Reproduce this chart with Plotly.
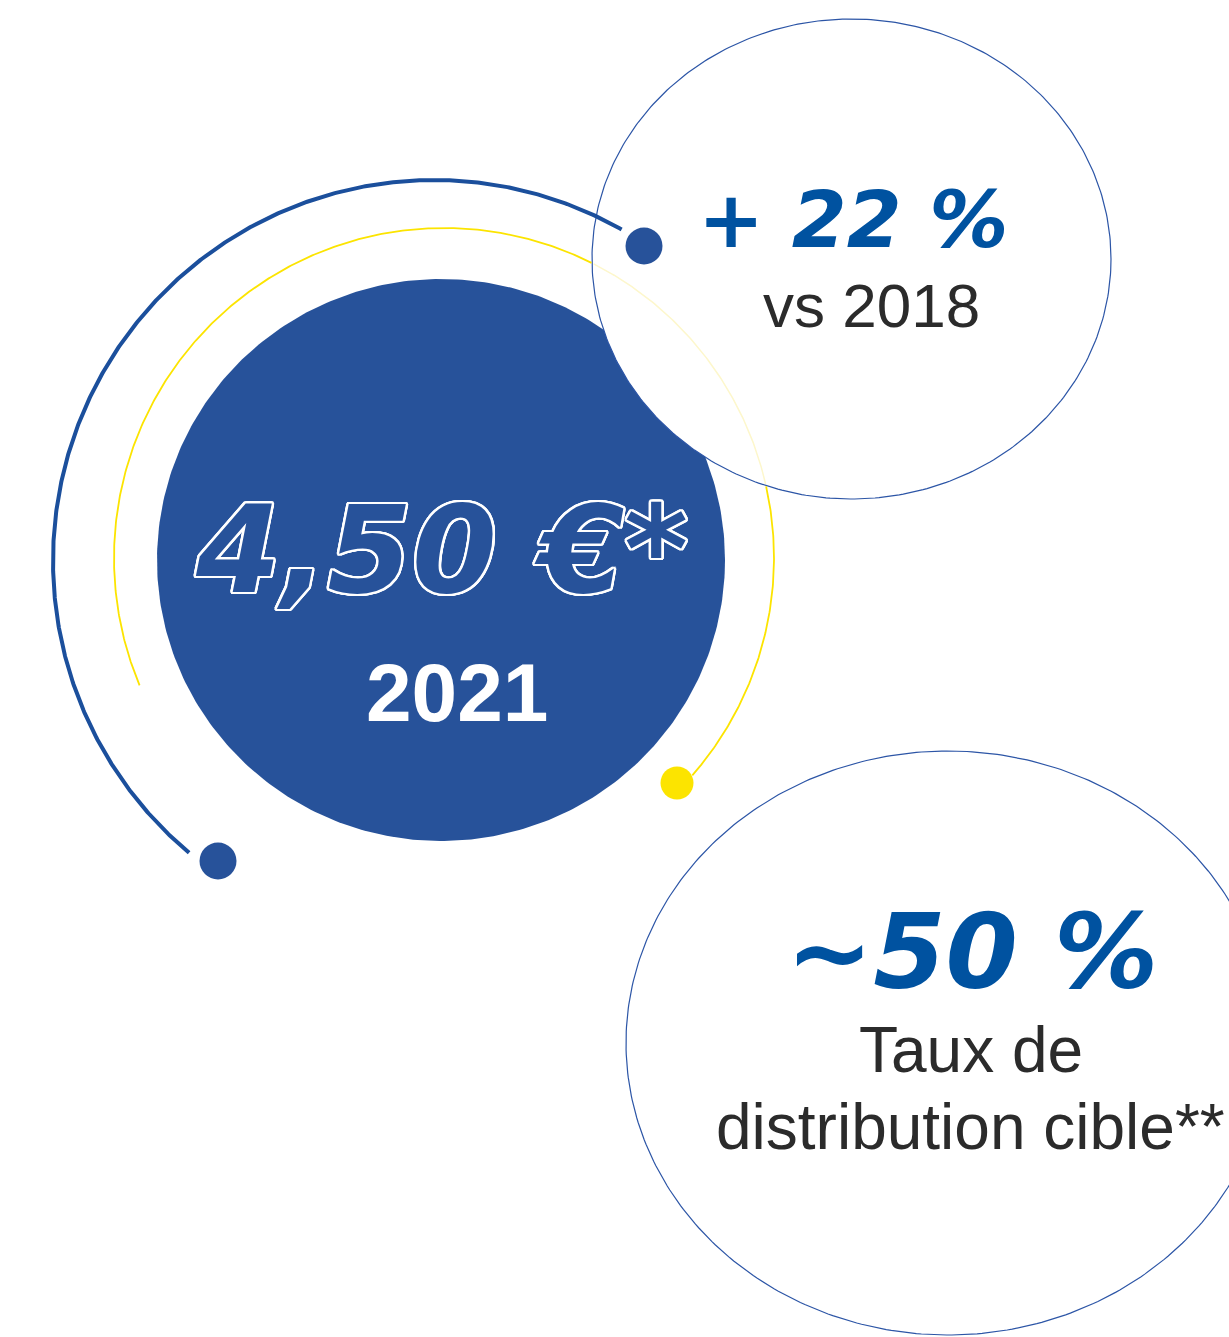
import numpy as np
import plotly.graph_objects as go

# text content of the infographic
main_value = ["4,50 €*"]
main_year = ["2021"]
growth_value = ["+ 22 %"]
growth_label = ["vs 2018"]
payout_value = ["~50 %"]
payout_label = ["Taux de", "distribution cible**"]

W, H = 1229, 1337
BLUE = "#27529a"
ARC_BLUE = "#1b4f9c"
TXT_BLUE = "#0052a0"
YELLOW = "#fce400"
PALE_YELLOW = "#fdf7cc"
GREY = "#2b2b2b"


def ellipse(cx, cy, rx, ry, a0=0, a1=360, n=400):
    t = np.radians(np.linspace(a0, a1, n))
    return cx + rx * np.cos(t), cy - ry * np.sin(t)


fig = go.Figure()

# big blue disc
x, y = ellipse(441, 560, 284, 281)
fig.add_trace(go.Scatter(x=x, y=y, fill="toself", fillcolor=BLUE, mode="lines",
                         line=dict(width=0, color=BLUE), hoverinfo="skip"))

# top-right bubble (opaque white, covers the disc)
b1 = (851.5, 259, 259.5, 240)
x, y = ellipse(*b1)
fig.add_trace(go.Scatter(x=x, y=y, fill="toself", fillcolor="white", mode="lines",
                         line=dict(width=1.2, color="#2c55a6"), hoverinfo="skip"))

# bottom-right bubble
x, y = ellipse(948, 1043, 322, 292)
fig.add_trace(go.Scatter(x=x, y=y, fill="toself", fillcolor="white", mode="lines",
                         line=dict(width=1.2, color="#2c55a6"), hoverinfo="skip"))

# yellow arc, pale where it sits under the top bubble
x, y = ellipse(444, 558, 330, 330, 202.7, -41.2, 600)
inside = ((x - b1[0]) / b1[2]) ** 2 + ((y - b1[1]) / b1[3]) ** 2 < 1
yo, yi = y.copy(), y.copy()
yo[inside] = np.nan
yi[~inside] = np.nan
fig.add_trace(go.Scatter(x=x, y=yo, mode="lines", line=dict(width=1.8, color=YELLOW),
                         hoverinfo="skip"))
fig.add_trace(go.Scatter(x=x, y=yi, mode="lines", line=dict(width=1.5, color=PALE_YELLOW),
                         hoverinfo="skip"))

# dark blue outer arc
x, y = ellipse(434, 561, 381, 381, 230, 60.5, 600)
fig.add_trace(go.Scatter(x=x, y=y, mode="lines", line=dict(width=4, color=ARC_BLUE),
                         hoverinfo="skip"))

# end dots
fig.add_trace(go.Scatter(x=[644, 218], y=[246, 861], mode="markers",
                         marker=dict(size=37, color=BLUE), hoverinfo="skip"))
fig.add_trace(go.Scatter(x=[677], y=[783], mode="markers",
                         marker=dict(size=33, color=YELLOW), hoverinfo="skip"))

# outlined white text via text-shadow
offs = [(2.4 * np.cos(a), 2.4 * np.sin(a)) for a in np.radians(np.arange(0, 360, 15))]
outline = ", ".join(f"{dx:.2f}px {dy:.2f}px 0px white" for dx, dy in offs)

ann = [
    dict(x=441, y=550, text=main_value[0],
         font=dict(family="DejaVu Sans", size=122, color=BLUE, weight="bold",
                   style="italic", shadow=outline)),
    dict(x=457, y=692, text=main_year[0],
         font=dict(family="Liberation Sans", size=82, color="white", weight="bold")),
    dict(x=853, y=220, text=growth_value[0],
         font=dict(family="DejaVu Sans", size=79, color=TXT_BLUE, weight="bold",
                   style="italic")),
    dict(x=871, y=305, text=growth_label[0],
         font=dict(family="Liberation Sans", size=62, color=GREY)),
    dict(x=972, y=952, text=payout_value[0],
         font=dict(family="DejaVu Sans", size=104, color=TXT_BLUE, weight="bold",
                   style="italic")),
    dict(x=971, y=1050, text=payout_label[0],
         font=dict(family="Liberation Sans", size=64, color=GREY)),
    dict(x=970, y=1127, text=payout_label[1],
         font=dict(family="Liberation Sans", size=64, color=GREY)),
]
for a in ann:
    fig.add_annotation(xref="x", yref="y", showarrow=False, xanchor="center",
                       yanchor="middle", **a)

fig.update_layout(
    width=W, height=H, margin=dict(l=0, r=0, t=0, b=0),
    paper_bgcolor="white", plot_bgcolor="white", showlegend=False,
    xaxis=dict(range=[0, W], visible=False, fixedrange=True),
    yaxis=dict(range=[H, 0], visible=False, fixedrange=True),
)

# drop the browser's default body margin so the figure sits at the page corner
fig.write_html("out.html", config={"displayModeBar": False},
               post_script="document.body.style.margin='0';document.body.style.overflow='hidden';")
